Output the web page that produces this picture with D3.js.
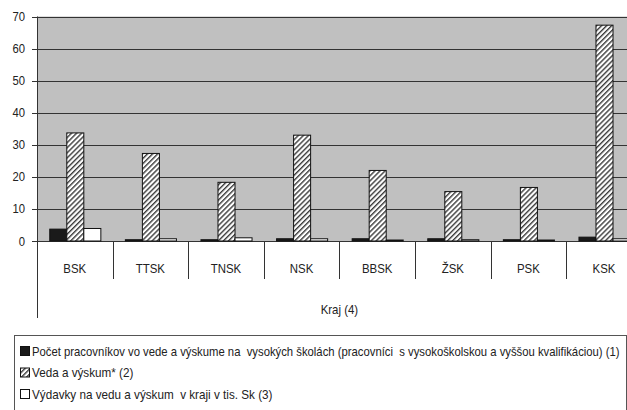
<!DOCTYPE html>
<html>
<head>
<meta charset="utf-8">
<script src="https://cdn.jsdelivr.net/npm/d3@7"></script>
<style>
  body { margin: 0; background: #fff; }
  svg { display: block; }
  text { font-family: "Liberation Sans", Arial, sans-serif; fill: #222; white-space: pre; }
</style>
</head>
<body>
<svg id="chart" width="627" height="410"></svg>
<script>
// data
const categories = ["BSK", "TTSK", "TNSK", "NSK", "BBSK", "ŽSK", "PSK", "KSK"];
const seriesNames = [
  "Počet pracovníkov vo vede a výskume na  vysokých školách (pracovníci  s vysokoškolskou a vyššou kvalifikáciou) (1)",
  "Veda a výskum* (2)",
  "Výdavky na vedu a výskum  v kraji v tis. Sk (3)"
];
const workers = [3.7, 0.4, 0.4, 0.7, 0.7, 0.7, 0.4, 1.2];
const research = [33.7, 27.3, 18.3, 33.0, 22.0, 15.4, 16.7, 67.3];
const spending = [3.9, 0.7, 1.0, 0.7, 0.3, 0.4, 0.3, 0.7];
const yTicks = [0, 10, 20, 30, 40, 50, 60, 70];
const axisTitle = "Kraj (4)";

const seriesValues = [workers, research, spending];
const fills = ["#1a1a1a", "url(#hatch)", "#ffffff"];

const svg = d3.select("#chart");

// hatch pattern for the middle series
const defs = svg.append("defs");
const pat = defs.append("pattern")
  .attr("id", "hatch")
  .attr("patternUnits", "userSpaceOnUse")
  .attr("width", 3.6).attr("height", 3.6)
  .attr("patternTransform", "rotate(45)");
pat.append("rect").attr("width", 3.6).attr("height", 3.6).attr("fill", "#fff");
pat.append("rect").attr("width", 1.4).attr("height", 3.6).attr("fill", "#3a3a3a");

// narrow-ish text like the original
function squeeze(sel, k) {
  sel.each(function () {
    const w = this.getComputedTextLength();
    d3.select(this).attr("textLength", w * k).attr("lengthAdjust", "spacingAndGlyphs");
  });
}

const plotLeft = 37, plotTop = 16.5, plotBottom = 241;
const step = 75.6;

const x = d3.scaleBand()
  .domain(categories)
  .range([plotLeft, plotLeft + step * categories.length])
  .padding(0);

const x1 = d3.scaleBand()
  .domain(d3.range(seriesValues.length))
  .range([0, x.bandwidth()])
  .paddingInner(0)
  .paddingOuter(0.72);

const y = d3.scaleLinear().domain([0, 70]).range([plotBottom, plotTop]);

// plot background
svg.append("rect")
  .attr("x", plotLeft).attr("y", plotTop)
  .attr("width", 627 - plotLeft).attr("height", plotBottom - plotTop)
  .attr("fill", "#c0c0c0");

// gridlines + ticks
svg.append("g").selectAll("line")
  .data(yTicks)
  .join("line")
  .attr("x1", plotLeft - 5).attr("x2", 627)
  .attr("y1", d => Math.round(y(d)) + 0.5).attr("y2", d => Math.round(y(d)) + 0.5)
  .attr("stroke", "#333").attr("stroke-width", 1);

svg.append("g").selectAll("text")
  .data(yTicks)
  .join("text")
  .attr("x", 25).attr("y", d => y(d) + 4.5)
  .attr("text-anchor", "end")
  .attr("font-size", 12.5)
  .text(d => d)
  .call(squeeze, 0.9);

// bars
const groups = svg.append("g").selectAll("g")
  .data(seriesValues)
  .join("g")
  .attr("fill", (d, i) => fills[i]);

groups.selectAll("rect")
  .data((vals, si) => vals.map((v, ci) => ({ si, cat: categories[ci], v })))
  .join("rect")
  .attr("x", d => x(d.cat) + x1(d.si) + 0.5)
  .attr("y", d => y(d.v))
  .attr("width", x1.bandwidth())
  .attr("height", d => plotBottom - y(d.v))
  .attr("stroke", "#111").attr("stroke-width", 1);

// category axis
const catLines = categories.map(c => x(c)).concat([x(categories[categories.length - 1]) + x.bandwidth()]);
svg.append("g").selectAll("line")
  .data(catLines.slice(1))
  .join("line")
  .attr("x1", d => Math.round(d) + 0.5).attr("x2", d => Math.round(d) + 0.5)
  .attr("y1", plotBottom).attr("y2", 279)
  .attr("stroke", "#333");

svg.append("line")
  .attr("x1", plotLeft + 0.5).attr("x2", plotLeft + 0.5)
  .attr("y1", plotTop).attr("y2", 318)
  .attr("stroke", "#333");

svg.append("g").selectAll("text")
  .data(categories)
  .join("text")
  .attr("x", d => x(d) + x.bandwidth() / 2)
  .attr("y", 272.5)
  .attr("text-anchor", "middle")
  .attr("font-size", 13)
  .text(d => d)
  .call(squeeze, 0.88);

svg.append("text")
  .attr("x", plotLeft + step * categories.length / 2)
  .attr("y", 313.5)
  .attr("text-anchor", "middle")
  .attr("font-size", 13)
  .text(axisTitle)
  .call(squeeze, 0.88);

// legend
svg.append("rect")
  .attr("x", 14.5).attr("y", 335.5)
  .attr("width", 612).attr("height", 80)
  .attr("fill", "none").attr("stroke", "#555");

const legendRows = [351, 372.5, 394];
const leg = svg.append("g").selectAll("g")
  .data(seriesNames)
  .join("g")
  .attr("transform", (d, i) => `translate(20,${legendRows[i]})`);

leg.append("rect")
  .attr("x", 0.5).attr("y", -4.5)
  .attr("width", 9).attr("height", 9)
  .attr("fill", (d, i) => fills[i])
  .attr("stroke", "#111");

// horizontal scale so the long first entry ends just inside the picture
leg.append("text")
  .attr("y", 4.5)
  .attr("font-size", 13)
  .text(d => d)
  .each(function (d, i) {
    const w = this.getComputedTextLength();
    const k = i === 0 ? Math.min(0.92, 588 / w) : 0.9;
    d3.select(this).attr("transform", `translate(12,0) scale(${k},1)`);
  });
</script>
</body>
</html>
